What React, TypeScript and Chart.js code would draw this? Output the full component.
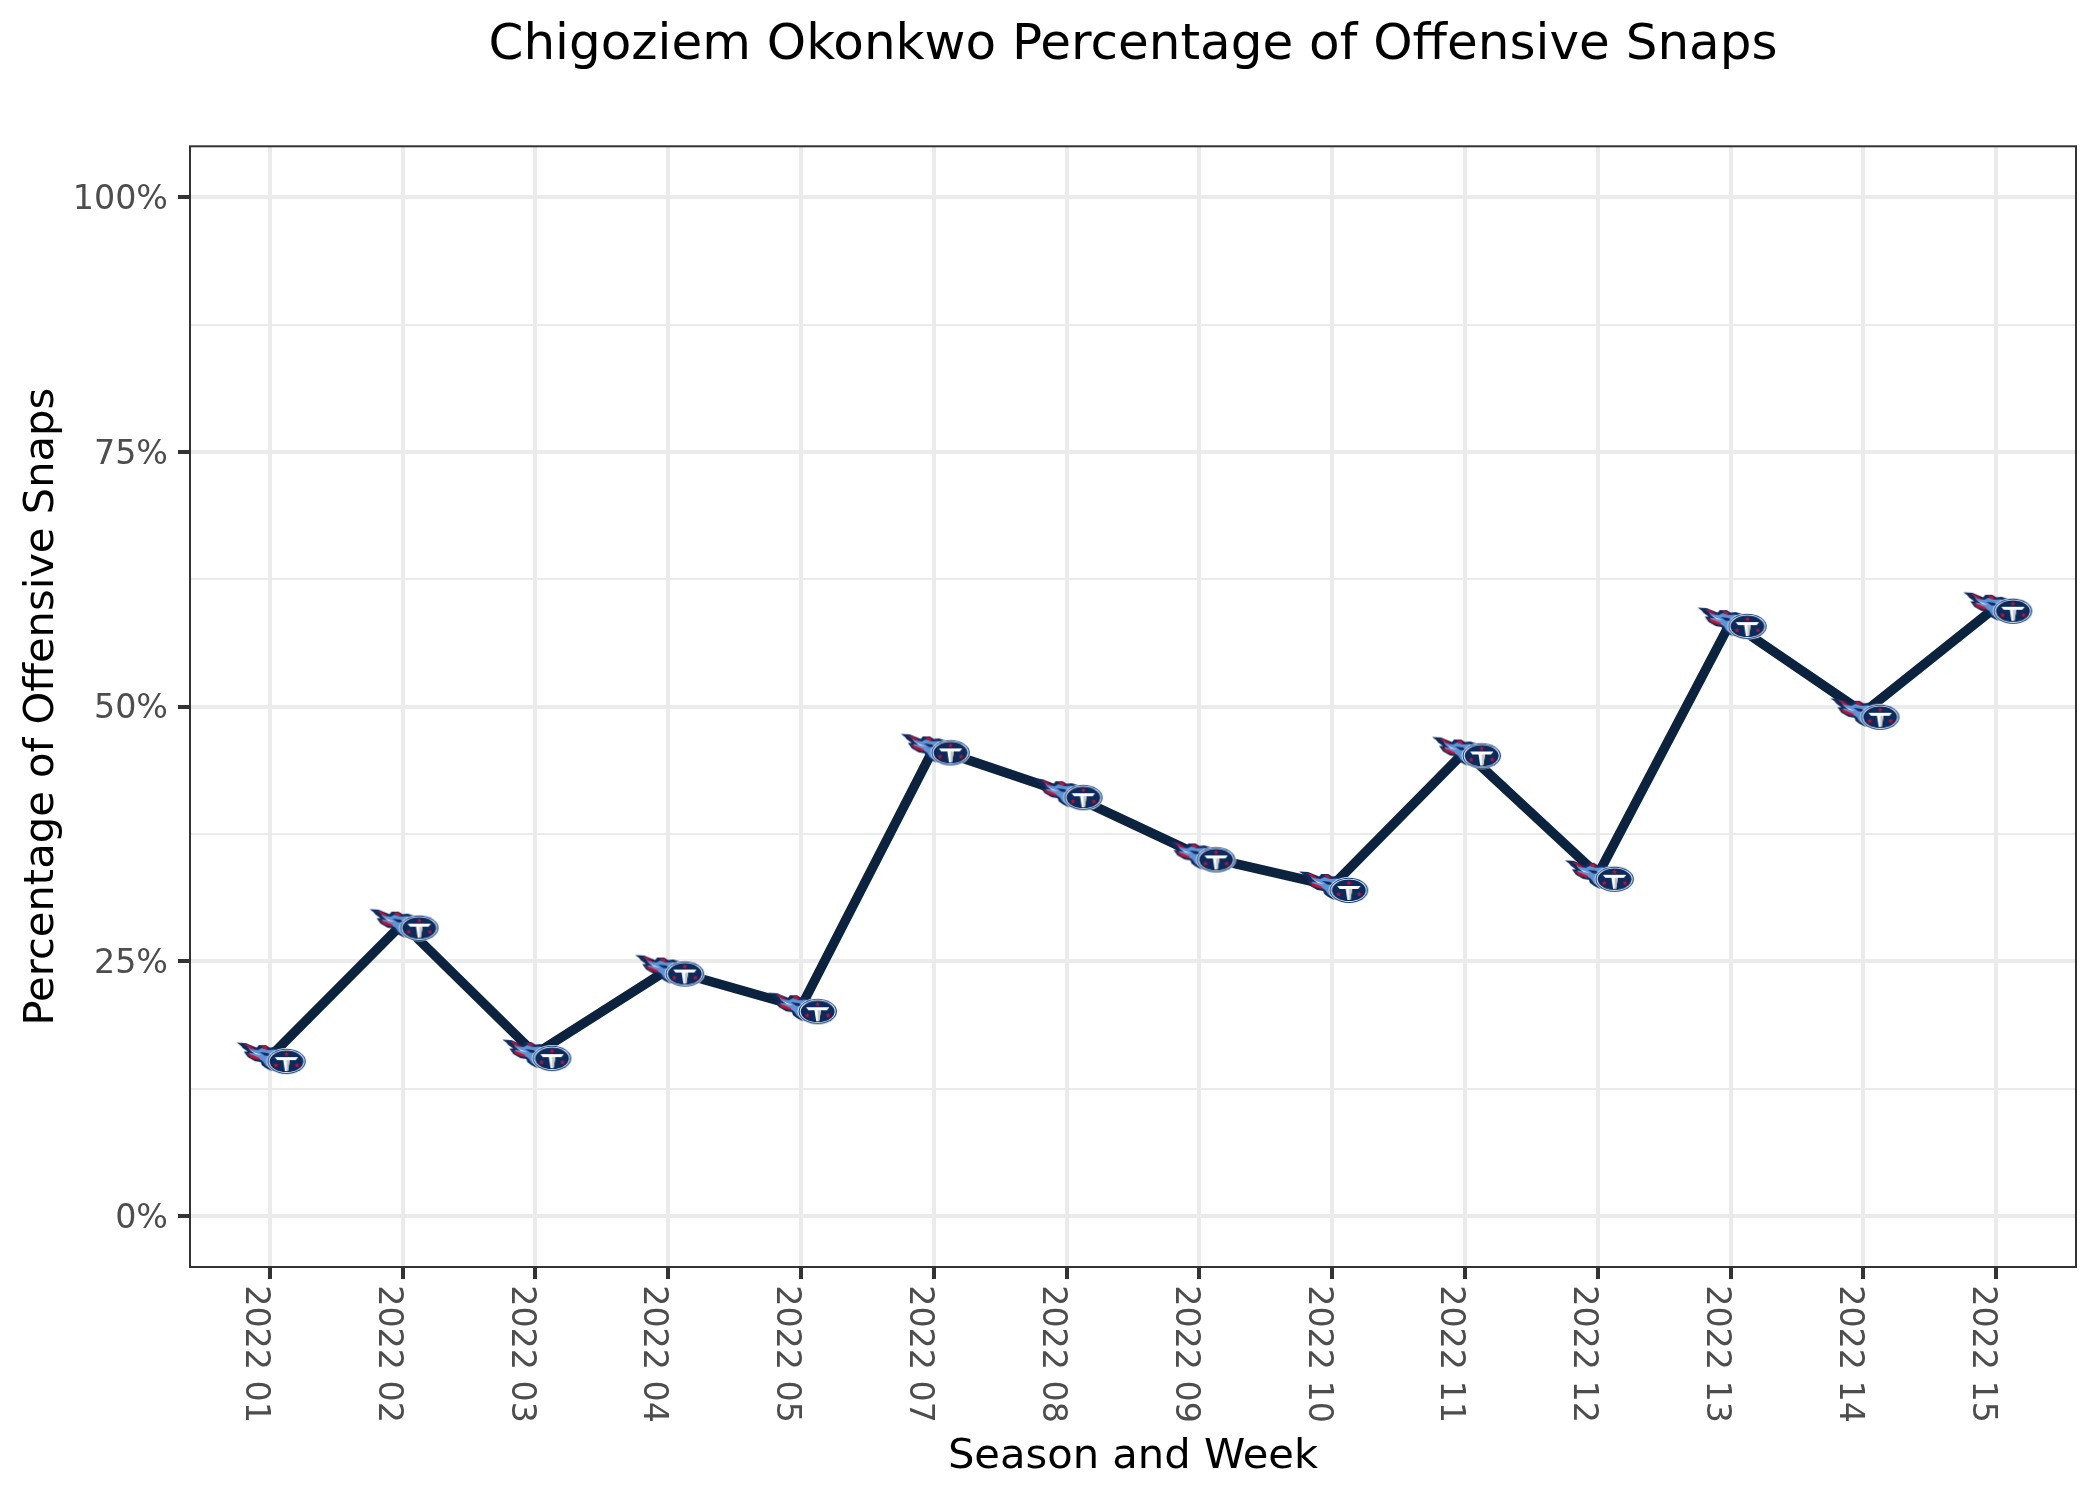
import React, { useEffect, useRef } from "react";
import { Chart, registerables } from "chart.js";

Chart.register(...registerables);

const weeks = ["2022 01","2022 02","2022 03","2022 04","2022 05","2022 07","2022 08","2022 09","2022 10","2022 11","2022 12","2022 13","2022 14","2022 15"];
const snapPct = [15.6,28.7,15.9,24.2,20.5,45.9,41.5,35.4,32.4,45.6,33.5,58.3,49.4,59.8];
const yGridValues = [0,12.5,25,37.5,50,62.5,75,87.5,100];
const yLabelled = [0,25,50,75,100];

const NAVY = "#0C2340";
const LOGO_NAVY = "#0B2A5E";
const BLUE = "#5E93D6";
const RED = "#C8102E";

function makeLogo(): HTMLCanvasElement {
  const c = document.createElement("canvas");
  c.width = 76;
  c.height = 38;
  const g = c.getContext("2d")!;
  g.translate(4 + 2, 3.5 + 1.5);
  const poly = (fill: string, pts: number[][]) => {
    g.fillStyle = fill;
    g.beginPath();
    pts.forEach((p, i) => (i ? g.lineTo(p[0], p[1]) : g.moveTo(p[0], p[1])));
    g.closePath();
    g.fill();
  };
  const oval = (fill: string, rx: number, ry: number) => {
    g.fillStyle = fill;
    g.beginPath();
    g.ellipse(48.7, 18.3, rx, ry, 0, 0, Math.PI * 2);
    g.fill();
  };
  const star = (cx: number, cy: number, r: number) => {
    const pts: number[][] = [];
    for (let i = 0; i < 10; i++) {
      const a = -Math.PI / 2 + (i * Math.PI) / 5;
      const rr = i % 2 ? r * 0.42 : r;
      pts.push([cx + rr * Math.cos(a), cy + rr * Math.sin(a)]);
    }
    poly(RED, pts);
  };
  poly(LOGO_NAVY, [[-1,-0.5],[8,0],[14,2.5],[19,4.5],[21,2],[28,2],[32,4.5],[37,4],[44,6],[42,29],[33,27.5],[28,25],[24,22],[23,19],[17,18],[10,14],[6,8.5],[10,8.5],[5,5],[3,2.5]]);
  poly(BLUE, [[10,3.5],[15,6],[20,7],[24,5],[30,7],[36,6.5],[43,8],[40,26.5],[33,26],[28,22.5],[25,18],[20,15],[13,12],[11,9.5],[17,10.5],[12,7]]);
  poly(RED, [[6,1],[11,2],[18,6.8],[13,6]]);
  poly(RED, [[23,2.5],[28,3],[31,7],[26,5.8]]);
  poly(RED, [[8.5,10],[15,12],[22,15],[21,17],[13,14.5]]);
  poly("#FFFFFF", [[12,7],[18,10],[24,12],[18,11]]);
  poly(LOGO_NAVY, [[22,9],[30,10],[34,13],[27,12.5]]);
  oval("#FFFFFF", 20, 13.2);
  oval("#0C3A7C", 19.2, 12.6);
  oval("#FFFFFF", 18, 11.6);
  oval(LOGO_NAVY, 17, 10.8);
  poly("#FFFFFF", [[37,14],[60.4,14],[58,17],[52,17],[50.2,28],[47.2,28],[45.5,17],[39.5,17]]);
  poly("#C3C8CC", [[48.7,17],[52,17],[50.2,28],[48.7,28]]);
  star(48.7, 11, 2.8);
  star(38.2, 22.3, 2.8);
  star(59.2, 22.3, 2.8);
  return c;
}

const panelBorder = {
  id: "panelBorder",
  afterDraw(chart: any) {
    const { left, top, width, height } = chart.chartArea;
    const g = chart.ctx;
    g.save();
    g.strokeStyle = "#333333";
    g.lineWidth = 2;
    g.strokeRect(left, top, width, height);
    g.restore();
  },
};

export default function App() {
  const ref = useRef<HTMLCanvasElement>(null);
  useEffect(() => {
    document.body.style.margin = "0";
    const logo = makeLogo();
    const chart = new Chart(ref.current!, {
      type: "line",
      data: {
        datasets: [
          {
            data: snapPct.map((v, i) => ({ x: i, y: v })),
            borderColor: NAVY,
            borderWidth: 9.5,
            tension: 0,
            pointStyle: logo as any,
            pointRadius: 20,
            clip: false as any,
          },
        ],
      },
      plugins: [panelBorder],
      options: {
        animation: false,
        responsive: false,
        devicePixelRatio: 1,
        layout: { autoPadding: false, padding: { right: 24, left: 0, top: 0, bottom: 0 } },
        plugins: {
          legend: { display: false },
          tooltip: { enabled: false },
          title: {
            display: true,
            fullSize: false,
            text: "Chigoziem Okonkwo Percentage of Offensive Snaps",
            color: "#000000",
            font: { family: "DejaVu Sans", size: 50, weight: "normal", lineHeight: 1.2 },
            padding: { top: 16.5, bottom: 69.8 },
          },
        },
        scales: {
          x: {
            type: "linear",
            min: -0.6,
            max: 13.6,
            afterBuildTicks: (s: any) => {
              s.ticks = weeks.map((_, i) => ({ value: i }));
            },
            afterFit: (s: any) => {
              s.height = 233;
              s.paddingLeft = 0;
              s.paddingRight = 0;
            },
            border: { display: false },
            grid: { color: "#EBEBEB", lineWidth: 4, tickColor: "#333333", tickWidth: 4, tickLength: 12 },
            ticks: {
              autoSkip: false,
              minRotation: -90,
              maxRotation: -90,
              padding: 144,
              labelOffset: -15,
              color: "#4D4D4D",
              font: { family: "DejaVu Sans", size: 33.33 },
              callback: (v: any) => weeks[v as number],
            },
            title: {
              display: true,
              text: "Season and Week",
              color: "#000000",
              font: { family: "DejaVu Sans", size: 41.67, lineHeight: 1.2 },
              padding: { top: 0, bottom: 18 },
            },
          },
          y: {
            type: "linear",
            min: -5,
            max: 105,
            afterBuildTicks: (s: any) => {
              s.ticks = yGridValues.map((value) => ({ value }));
            },
            afterFit: (s: any) => {
              s.width = 190;
              s.paddingTop = 0;
              s.paddingBottom = 0;
            },
            border: { display: false },
            grid: {
              color: "#EBEBEB",
              lineWidth: (c: any) => (yLabelled.includes(c.tick?.value) ? 4 : 2),
              tickColor: (c: any) => (yLabelled.includes(c.tick?.value) ? "#333333" : "rgba(0,0,0,0)"),
              tickWidth: 4,
              tickLength: 12,
            },
            ticks: {
              autoSkip: false,
              padding: 10,
              labelOffset: 3,
              color: "#4D4D4D",
              font: { family: "DejaVu Sans", size: 33.33 },
              callback: (v: any) => (yLabelled.includes(v) ? `${v}%` : ""),
            },
            title: {
              display: true,
              text: "Percentage of Offensive Snaps",
              color: "#000000",
              font: { family: "DejaVu Sans", size: 41.67, lineHeight: 1.2 },
              padding: { top: 17, bottom: 0 },
            },
          },
        },
      } as any,
    });
    return () => chart.destroy();
  }, []);
  return <canvas ref={ref} width={2100} height={1500} style={{ display: "block" }} />;
}
